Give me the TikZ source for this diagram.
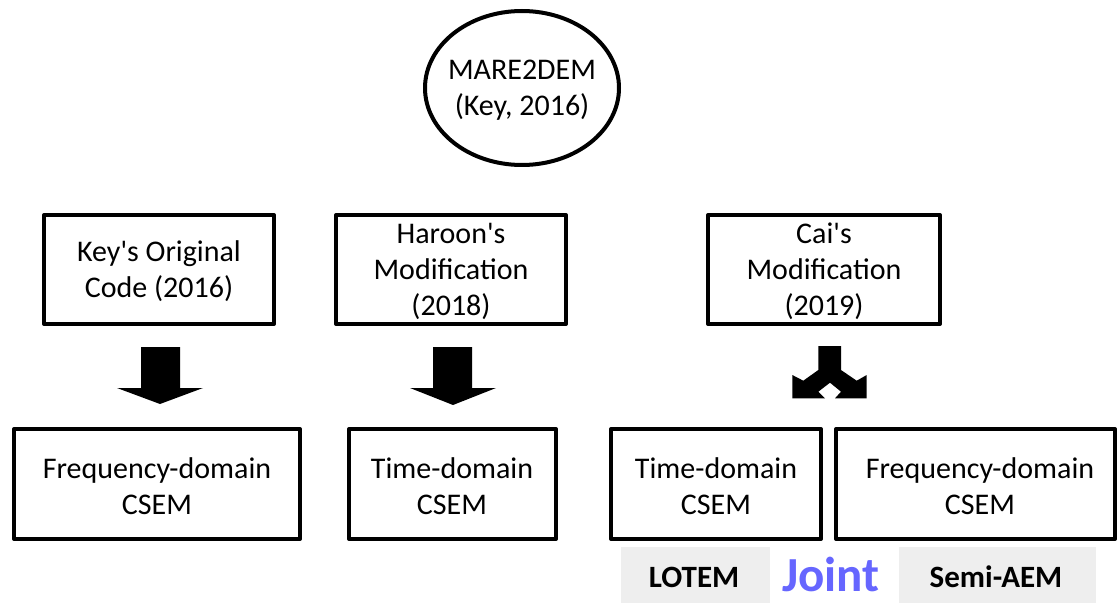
\documentclass[tikz,border=0pt]{standalone}
\usepackage{fontspec}
\setmainfont{Carlito}
\newcommand{\apos}{\textquotesingle}
\begin{document}
\begin{tikzpicture}[x=1bp,y=-1bp,
  every node/.style={inner sep=0pt,outer sep=0pt},
  boxtext/.style={font=\fontsize{30bp}{36bp}\selectfont,align=center},
  frame/.style={draw=black,line width=4bp,line join=round},
  tag/.style={fill=tagfill,draw=none},
  tagtext/.style={font=\fontsize{31bp}{36bp}\selectfont\bfseries,anchor=base},
  blockarrow/.style={fill=black,draw=none}]
\definecolor{tagfill}{RGB}{238,238,238}
\definecolor{jointblue}{RGB}{102,102,255}
\useasboundingbox (0,0) rectangle (1119,603);

% root ellipse
\draw[frame] (522,88) ellipse [x radius=97,y radius=77];
\node[boxtext] (root) at (522,90) {MARE2DEM\\(Key, 2016)};

% upper row of boxes
\draw[frame] (44,215) rectangle (274,324);
\node[boxtext] (key) at (159,271) {Key\apos s Original\\Code (2016)};
\draw[frame] (336,215) rectangle (566,324);
\node[boxtext] (haroon) at (451,271) {Haroon\apos s\\Modification\\(2018)};
\draw[frame] (708,215) rectangle (940,324);
\node[boxtext] (cai) at (824,271) {Cai\apos s\\Modification\\(2019)};

% lower row of boxes
\draw[frame] (14,429) rectangle (300,539);
\node[boxtext] (fd1) at (157,486) {Frequency-domain\\CSEM};
\draw[frame] (349,429) rectangle (556,539);
\node[boxtext] (td1) at (452,486) {Time-domain\\CSEM};
\draw[frame] (611,429) rectangle (821,539);
\node[boxtext] (td2) at (716,486) {Time-domain\\CSEM};
\draw[frame] (836,429) rectangle (1115,539);
\node[boxtext] (fd2) at (980,486) {Frequency-domain\\CSEM};

% block arrows
\fill[blockarrow] (141,347) -- (180,347) -- (180,388) -- (203,388) -- (160,404)
  -- (117,388) -- (141,388) -- cycle;
\fill[blockarrow] (433,347) -- (472,347) -- (472,388) -- (496,388) -- (453,405)
  -- (410,388) -- (433,388) -- cycle;
% split arrow
\fill[blockarrow] (818.3,346) -- (841,346) -- (841,370) -- (856.7,380.7)
  -- (866.7,375) -- (866.7,398.3) -- (835,398.3) -- (841,391.7) -- (830,382.7)
  -- (818.3,391.7) -- (825,398.3) -- (792.3,398.3) -- (792.3,375)
  -- (803.3,380.7) -- (818.3,370) -- cycle;

% method tags
\fill[tag] (621,547) rectangle (770,603);
\node[tagtext] (lotem) at (694,587) {LOTEM};
\node[font=\fontsize{49bp}{52bp}\selectfont\bfseries,text=jointblue,anchor=base] (joint) at (831,591) {Joint};
\fill[tag] (899,547) rectangle (1096,603);
\node[tagtext] (semi) at (996,587) {Semi-AEM};
\end{tikzpicture}
\end{document}
